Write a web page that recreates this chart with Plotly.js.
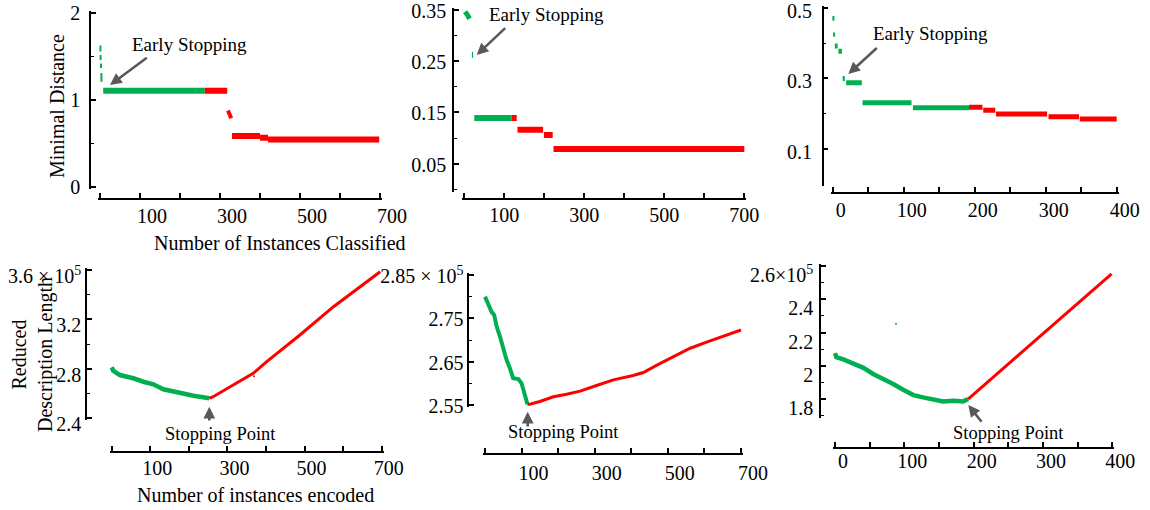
<!DOCTYPE html>
<html>
<head>
<meta charset="utf-8">
<script src="https://cdn.plot.ly/plotly-3.0.1.min.js"></script>
<style>html,body{margin:0;padding:0;background:#fff}#chart{width:1150px;height:510px}</style>
</head>
<body>
<div id="chart"></div>
<script>
// ---------------- DATA ----------------
// Panel A (top-left): minimal distance vs number of instances classified
const aEarlyX = [1, 1.5, 2.5, 3.5];
const aEarlyHi = [1.63, 1.52, 1.42, 1.31];
const aEarlyLo = [1.56, 1.46, 1.37, 1.21];
const aGreenStart = [8];
const aGreenEnd = [262];
const aGreenVal = [1.107];
const aRedStart = [262, 330, 400, 420];
const aRedEnd = [318, 400, 420, 698];
const aRedVal = [1.107, 0.585, 0.565, 0.545];
const aDropX = [320, 328];
const aDropY = [0.88, 0.79];

// Panel B (top-middle)
const bEarlyX = [2, 6, 9, 13];
const bEarlyY = [0.346, 0.343, 0.338, 0.332];
const bGreenStart = [19, 25];
const bGreenEnd = [22, 118];
const bGreenVal = [0.262, 0.139];
const bRedStart = [118, 133, 199, 223];
const bRedEnd = [131, 197, 221, 700];
const bRedVal = [0.139, 0.116, 0.106, 0.0786];

// Panel C (top-right)
const cEarlyX = [1, 2];
const cEarlyHi = [0.477, 0.430];
const cEarlyLo = [0.463, 0.418];
const cGreenStart = [3, 8, 14, 19, 42, 113];
const cGreenEnd = [7, 13, 17, 41, 111, 192];
const cGreenVal = [0.392, 0.377, 0.300, 0.288, 0.231, 0.217];
const cRedStart = [192, 212, 230, 304, 348];
const cRedEnd = [211, 229, 302, 347, 400];
const cRedVal = [0.218, 0.2096, 0.199, 0.1915, 0.185];

// Panel D (bottom-left): reduced description length (x 10^5)
const dGreenX = [0, 4, 21, 39, 56, 82, 108, 134, 160, 186, 212, 237, 253];
const dGreenY = [2.813, 2.785, 2.75, 2.737, 2.724, 2.696, 2.675, 2.635, 2.615, 2.602, 2.583, 2.57, 2.562];
const dRedX = [253, 263, 315, 367, 402, 488, 575, 661, 696];
const dRedY = [2.562, 2.575, 2.67, 2.764, 2.858, 3.074, 3.303, 3.505, 3.586];
const dStrayX = [369];
const dStrayY = [2.74];

// Panel E (bottom-middle)
const eGreenX = [0, 5, 9, 18, 25, 32, 41, 50, 59, 68, 77, 91, 100, 109, 116];
const eGreenY = [2.80, 2.79, 2.781, 2.765, 2.758, 2.731, 2.708, 2.677, 2.654, 2.635, 2.612, 2.61, 2.6, 2.573, 2.552];
const eRedX = [116, 123, 150, 187, 223, 260, 305, 351, 405, 433, 470, 515, 561, 606, 652, 700];
const eRedY = [2.552, 2.552, 2.558, 2.569, 2.575, 2.582, 2.595, 2.608, 2.618, 2.625, 2.642, 2.661, 2.681, 2.695, 2.708, 2.723];

// Panel F (bottom-right)
const fGreenX = [0, 2, 12, 26, 41, 55, 70, 84, 99, 113, 127, 142, 156, 171, 185, 192];
const fGreenY = [2.076, 2.052, 2.038, 2.012, 1.988, 1.951, 1.921, 1.891, 1.855, 1.824, 1.81, 1.794, 1.786, 1.79, 1.786, 1.8];
const fRedX = [192, 296, 399];
const fRedY = [1.8, 2.175, 2.552];
const fStrayX = [88];
const fStrayY = [2.253];

// Tick values and labels
const xTicks700 = [100, 300, 500, 700];
const xMinor700 = [0, 200, 400, 600];
const xTicks400 = [0, 100, 200, 300, 400];
const xMinor400 = [50, 150, 250, 350];
const aYTicks = [0, 1, 2];
const aYText = ['0', '1', '2'];
const bYTicks = [0.05, 0.15, 0.25, 0.35];
const bYText = ['0.05', '0.15', '0.25', '0.35'];
const cYTicks = [0.1, 0.3, 0.5];
const cYText = ['0.1', '0.3', '0.5'];
const dYTicks = [2.4, 2.8, 3.2, 3.6];
const dYText = ['2.4', '2.8', '3.2', '3.6 × 10<sup>5</sup>'];
const eYTicks = [2.55, 2.65, 2.75, 2.85];
const eYText = ['2.55', '2.65', '2.75', '2.85 × 10<sup>5</sup>'];
const fYTicks = [1.8, 2, 2.2, 2.4, 2.6];
const fYText = ['1.8', '2', '2.2', '2.4', '2.6×10<sup>5</sup>'];

// ---------------- STYLE / GEOMETRY ----------------
const W = 1150, H = 510;
const GREEN = '#00b050', RED = '#ff0000', ARROW = '#595959', AXIS = '#000';
const FONT = 'Liberation Serif, Times New Roman, serif';
const fx = px => px / W;
const fy = py => 1 - py / H;
const EXT = 2; // extra px at axis ends so end ticks are kept

function stepTrace(starts, ends, vals, color, width, n) {
  const x = [], y = [];
  starts.forEach((s, i) => { x.push(s, ends[i], null); y.push(vals[i], vals[i], null); });
  return {x, y, mode: 'lines', line: {color, width}, xaxis: 'x' + n, yaxis: 'y' + n, hoverinfo: 'skip'};
}
function dashTrace(xs, hi, lo, color, width, n) {
  const x = [], y = [];
  xs.forEach((v, i) => { x.push(v, v, null); y.push(hi[i], lo[i], null); });
  return {x, y, mode: 'lines', line: {color, width}, xaxis: 'x' + n, yaxis: 'y' + n, hoverinfo: 'skip'};
}
function lineTrace(x, y, color, width, n) {
  return {x, y, mode: 'lines', line: {color, width}, xaxis: 'x' + n, yaxis: 'y' + n, hoverinfo: 'skip'};
}
function dotTrace(x, y, color, n) {
  return {x, y, mode: 'markers', marker: {color, size: 2}, xaxis: 'x' + n, yaxis: 'y' + n, hoverinfo: 'skip'};
}

const traces = [
  dashTrace(aEarlyX, aEarlyHi, aEarlyLo, GREEN, 2, ''),
  stepTrace(aGreenStart, aGreenEnd, aGreenVal, GREEN, 6, ''),
  stepTrace(aRedStart, aRedEnd, aRedVal, RED, 6, ''),
  lineTrace(aDropX, aDropY, RED, 4, ''),
  lineTrace(bEarlyX, bEarlyY, GREEN, 5, '2'),
  stepTrace(bGreenStart, bGreenEnd, bGreenVal, GREEN, 6, '2'),
  stepTrace(bRedStart, bRedEnd, bRedVal, RED, 6, '2'),
  dashTrace(cEarlyX, cEarlyHi, cEarlyLo, GREEN, 2, '3'),
  stepTrace(cGreenStart, cGreenEnd, cGreenVal, GREEN, 5, '3'),
  stepTrace(cRedStart, cRedEnd, cRedVal, RED, 5, '3'),
  lineTrace(dGreenX, dGreenY, GREEN, 4.5, '4'),
  lineTrace(dRedX, dRedY, RED, 3, '4'),
  dotTrace(dStrayX, dStrayY, RED, '4'),
  lineTrace(eGreenX, eGreenY, GREEN, 4, '5'),
  lineTrace(eRedX, eRedY, RED, 3, '5'),
  lineTrace(fGreenX, fGreenY, GREEN, 4.5, '6'),
  lineTrace(fRedX, fRedY, RED, 3, '6'),
  dotTrace(fStrayX, fStrayY, GREEN, '6')
];

const panels = [
  {n: '',  yLineX: 90,    yTop: 13.3, yBot: 186.7, yr: [0, 2],      xLineY: 198.7, xL: 100,   xR: 380,    xr: [0, 700],
   ytv: aYTicks, ytt: aYText, yminor: [0.5, 1.5], xtv: xTicks700, xminor: xMinor700, xshift: 12, xstand: 0, ystand: 5, yshift: 0},
  {n: '2', yLineX: 453,   yTop: 9.5,  yBot: 189.5, yr: [0, 0.35],   xLineY: 198.7, xL: 464.3, xR: 744.3,  xr: [0, 700],
   ytv: bYTicks, ytt: bYText, yminor: [0, 0.1, 0.2, 0.3], xtv: xTicks700, xminor: xMinor700, xshift: 0, xstand: -1, ystand: 2, yshift: 1},
  {n: '3', yLineX: 822.7, yTop: 7.8,  yBot: 184.3, yr: [0, 0.5],    xLineY: 192.7, xL: 832.7, xR: 1116.7, xr: [0, 400],
   ytv: cYTicks, ytt: cYText, yminor: [0.2, 0.4], xtv: xTicks400, xminor: xMinor400, xshift: 8, xstand: 0, ystand: 6, yshift: 3},
  {n: '4', yLineX: 86,    yTop: 270,  yBot: 418.3, yr: [2.4, 3.6],  xLineY: 452,   xL: 111.7, xR: 381.7,  xr: [0, 700],
   ytv: dYTicks, ytt: dYText, yminor: [2.6, 3.0, 3.4], xtv: xTicks700, xminor: xMinor700, xshift: 7, xstand: -2, ystand: 0, yshift: 6},
  {n: '5', yLineX: 468.3, yTop: 275,  yBot: 405,   yr: [2.55, 2.85], xLineY: 454,  xL: 485,   xR: 741,    xr: [0, 700],
   ytv: eYTicks, ytt: eYText, yminor: [2.6, 2.7, 2.8], xtv: xTicks700, xminor: xMinor700, xshift: 12, xstand: 1, ystand: 0, yshift: 1},
  {n: '6', yLineX: 820,   yTop: 266,  yBot: 415.7, yr: [1.7, 2.6],  xLineY: 448,   xL: 835,   xR: 1112.3, xr: [0, 400],
   ytv: fYTicks, ytt: fYText, yminor: [1.7, 1.9, 2.1, 2.3, 2.5], xtv: xTicks400, xminor: xMinor400, xshift: 8, xstand: -5, ystand: 2, yshift: 9}
];

const layout = {
  width: W, height: H,
  margin: {l: 0, r: 0, t: 0, b: 0, pad: 0},
  paper_bgcolor: '#fff', plot_bgcolor: 'rgba(0,0,0,0)',
  showlegend: false,
  font: {family: FONT, size: 20, color: '#000'},
  annotations: []
};

panels.forEach(p => {
  const common = {
    showgrid: false, zeroline: false, showline: true, linecolor: AXIS, linewidth: 1.5,
    ticks: 'inside', ticklen: 5, tickwidth: 1.5, tickcolor: AXIS, tickmode: 'array',
    ticklabeloverflow: 'allow',
    tickfont: {family: FONT, size: 20, color: '#000'}, anchor: 'free'
  };
  const sx = (p.xR - p.xL) / (p.xr[1] - p.xr[0]);
  const sy = (p.yBot - p.yTop) / (p.yr[1] - p.yr[0]);
  layout['xaxis' + p.n] = Object.assign({}, common, {
    domain: [fx(p.xL - EXT), fx(p.xR + EXT)], range: [p.xr[0] - EXT / sx, p.xr[1] + EXT / sx], position: fy(p.xLineY),
    tickvals: p.xtv, ticktext: p.xtv.map(String), ticklabelshift: p.xshift, ticklabelstandoff: p.xstand,
    minor: {tickmode: 'array', tickvals: p.xminor, ticks: 'inside', ticklen: 5, tickwidth: 1.5, tickcolor: AXIS, showgrid: false}
  });
  layout['yaxis' + p.n] = Object.assign({}, common, {
    domain: [fy(p.yBot + EXT), fy(p.yTop - EXT)], range: [p.yr[0] - EXT / sy, p.yr[1] + EXT / sy], position: fx(p.yLineX),
    tickvals: p.ytv, ticktext: p.ytt, ticklabelstandoff: p.ystand, ticklabelshift: p.yshift,
    minor: {tickmode: 'array', tickvals: p.yminor, ticks: 'inside', ticklen: 3, tickwidth: 1.2, tickcolor: AXIS, showgrid: false}
  });
});

function textAnn(text, cx, cy, size, angle) {
  return {text, x: fx(cx), y: fy(cy), xref: 'paper', yref: 'paper', xanchor: 'center', yanchor: 'middle',
          showarrow: false, textangle: angle || 0, font: {family: FONT, size, color: '#000'}};
}
function arrowAnn(hx, hy, tx, ty) {
  return {text: '', x: fx(hx), y: fy(hy), xref: 'paper', yref: 'paper', ax: tx - hx, ay: ty - hy,
          showarrow: true, arrowhead: 2, arrowsize: 0.9, arrowwidth: 2.6, arrowcolor: ARROW};
}

layout.annotations.push(
  textAnn('Minimal Distance', 57, 106, 20, -90),
  textAnn('Number of Instances Classified', 280, 243, 20),
  textAnn('Number of instances encoded', 255, 495, 20),
  textAnn('Reduced<br>Description Length', 32, 355, 20, -90),
  textAnn('Early Stopping', 189.5, 44, 19),
  textAnn('Early Stopping', 546.5, 14, 19),
  textAnn('Early Stopping', 930, 34, 19),
  textAnn('Stopping Point', 220, 433.5, 18.5),
  textAnn('Stopping Point', 563.3, 432, 18.5),
  textAnn('Stopping Point', 1008.3, 433, 18.5),
  arrowAnn(110, 85, 148.3, 56.7),
  arrowAnn(476.7, 55, 506.7, 26.7),
  arrowAnn(848.3, 74, 878.3, 46.7),
  arrowAnn(209.3, 406.7, 209.3, 422),
  arrowAnn(527.7, 411.7, 527.7, 428),
  arrowAnn(968.3, 405, 982.7, 423.3)
);

Plotly.newPlot('chart', traces, layout, {displayModeBar: false});
</script>
</body>
</html>
